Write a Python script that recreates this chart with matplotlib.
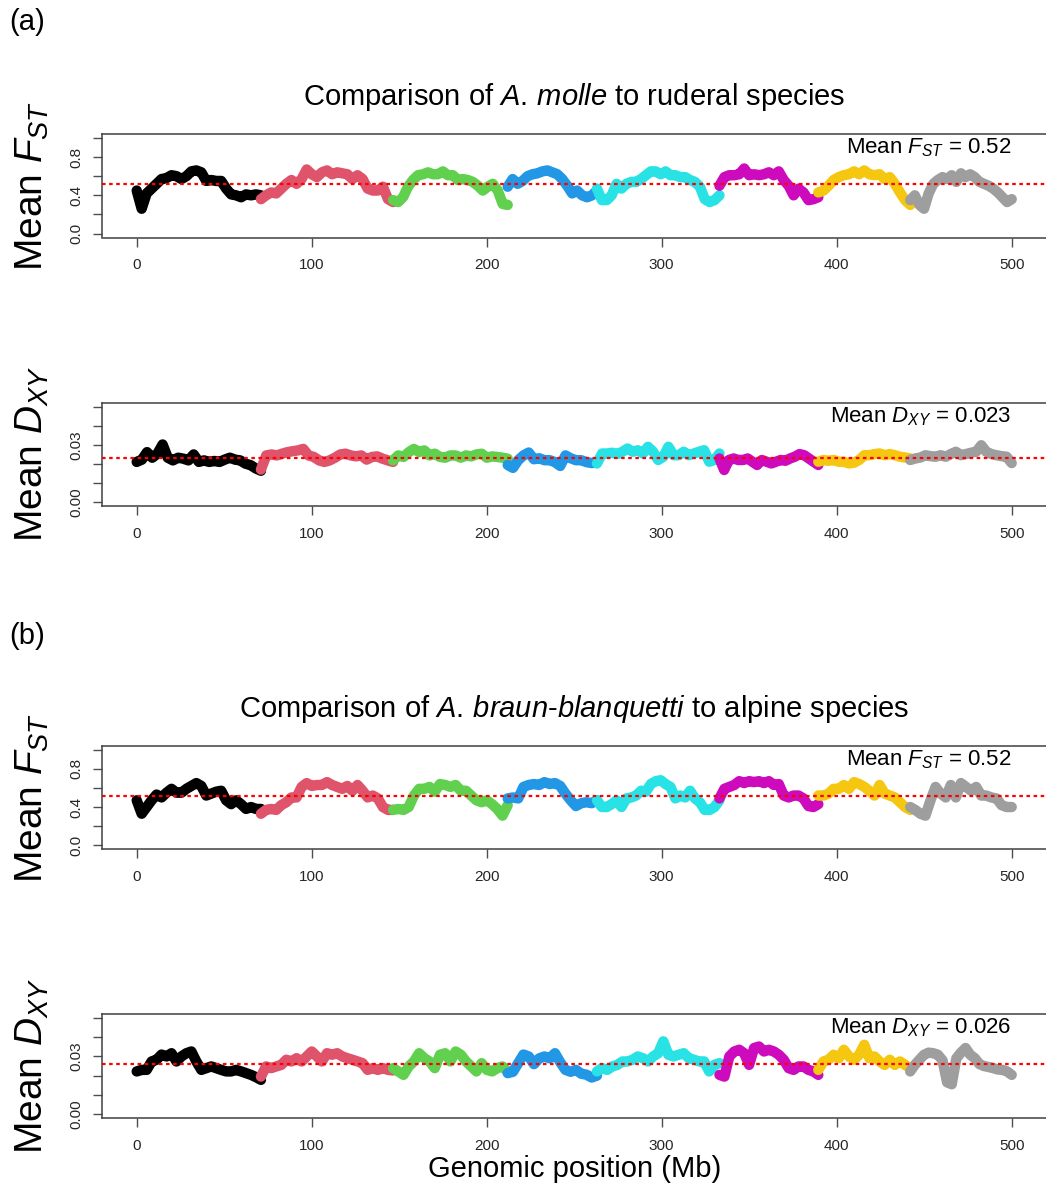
import numpy as np
import matplotlib
matplotlib.use("Agg")
import matplotlib.pyplot as plt

plt.rcParams["font.family"] = "Liberation Sans"
plt.rcParams["mathtext.fontset"] = "custom"
plt.rcParams["mathtext.rm"] = "Liberation Sans"
plt.rcParams["mathtext.it"] = "Liberation Sans:italic"
plt.rcParams["mathtext.bf"] = "Liberation Sans:bold"

# chromosome bounds (Mb) and R 4.x palette
chrom_start = [0, 71, 146.5, 212, 263, 333, 389.5, 442]
chrom_end = [71, 146.5, 212, 263, 333, 389.5, 442, 500]
chrom_col = ["#000000", "#DF536B", "#61D04F", "#2297E6",
             "#28E2E5", "#CD0BBC", "#F5C710", "#9E9E9E"]

# (a) A. molle vs ruderal: sliding-window FST per chromosome
fst_a = [
    [0.45, 0.26, 0.42, 0.47, 0.52, 0.57, 0.58, 0.61, 0.60, 0.57, 0.60, 0.65, 0.66,
     0.64, 0.55, 0.56, 0.55, 0.55, 0.47, 0.41, 0.40, 0.38, 0.41, 0.40, 0.41, 0.40],
    [0.36, 0.40, 0.43, 0.42, 0.47, 0.52, 0.56, 0.52, 0.57, 0.67, 0.62, 0.59, 0.64, 0.66,
     0.62, 0.64, 0.63, 0.62, 0.57, 0.61, 0.57, 0.47, 0.45, 0.45, 0.49, 0.36, 0.33],
    [0.35, 0.33, 0.38, 0.49, 0.56, 0.61, 0.62, 0.64, 0.62, 0.62, 0.65, 0.61,
     0.61, 0.56, 0.57, 0.56, 0.54, 0.50, 0.45, 0.49, 0.52, 0.45, 0.31, 0.30],
    [0.49, 0.57, 0.52, 0.55, 0.60, 0.62, 0.63, 0.65, 0.66, 0.64,
     0.62, 0.57, 0.50, 0.42, 0.45, 0.40, 0.38, 0.40, 0.45],
    [0.47, 0.35, 0.35, 0.40, 0.52, 0.47, 0.52, 0.54, 0.54, 0.57, 0.61, 0.65, 0.65,
     0.62, 0.65, 0.61, 0.61, 0.59, 0.59, 0.56, 0.54, 0.49, 0.36, 0.33, 0.35, 0.40],
    [0.50, 0.59, 0.61, 0.61, 0.62, 0.68, 0.61, 0.62, 0.61, 0.62, 0.64,
     0.61, 0.65, 0.56, 0.50, 0.40, 0.47, 0.43, 0.35, 0.36, 0.38],
    [0.43, 0.45, 0.50, 0.56, 0.59, 0.61, 0.62, 0.65, 0.62, 0.66,
     0.62, 0.61, 0.62, 0.57, 0.59, 0.52, 0.43, 0.35, 0.30],
    [0.35, 0.40, 0.30, 0.26, 0.42, 0.52, 0.56, 0.59, 0.57, 0.61, 0.54, 0.63,
     0.59, 0.62, 0.59, 0.54, 0.52, 0.50, 0.47, 0.43, 0.38, 0.33, 0.36],
]

dxy_a = [
    [0.0211, 0.0223, 0.0262, 0.0233, 0.0254, 0.0302, 0.0233, 0.0219, 0.0233, 0.0228,
     0.0219, 0.0250, 0.0211, 0.0219, 0.0211, 0.0216, 0.0211, 0.0223, 0.0233, 0.0223,
     0.0219, 0.0202, 0.0194, 0.0177, 0.0165],
    [0.0171, 0.0245, 0.0250, 0.0245, 0.0254, 0.0262, 0.0267, 0.0271, 0.0279, 0.0245,
     0.0237, 0.0219, 0.0211, 0.0219, 0.0233, 0.0250, 0.0254, 0.0245, 0.0240, 0.0245,
     0.0223, 0.0237, 0.0240, 0.0228, 0.0219, 0.0211],
    [0.0219, 0.0245, 0.0237, 0.0262, 0.0279, 0.0262, 0.0271, 0.0245, 0.0254, 0.0237,
     0.0233, 0.0245, 0.0245, 0.0233, 0.0245, 0.0240, 0.0250, 0.0254, 0.0233, 0.0240,
     0.0237, 0.0233, 0.0228],
    [0.0195, 0.0180, 0.0220, 0.0245, 0.0260, 0.0225, 0.0230, 0.0220, 0.0220,
     0.0210, 0.0190, 0.0245, 0.0230, 0.0220, 0.0220, 0.0210, 0.0205, 0.0210],
    [0.0203, 0.0255, 0.0255, 0.0259, 0.0252, 0.0264, 0.0281, 0.0264, 0.0272, 0.0255,
     0.0290, 0.0264, 0.0221, 0.0238, 0.0290, 0.0246, 0.0246, 0.0264, 0.0246, 0.0255,
     0.0264, 0.0272, 0.0212, 0.0221, 0.0255],
    [0.0229, 0.0169, 0.0221, 0.0229, 0.0221, 0.0221, 0.0229, 0.0212, 0.0195, 0.0221,
     0.0212, 0.0203, 0.0212, 0.0221, 0.0217, 0.0229, 0.0238, 0.0252, 0.0246, 0.0229,
     0.0212, 0.0195],
    [0.0212, 0.0221, 0.0217, 0.0221, 0.0212, 0.0212, 0.0203, 0.0207, 0.0221, 0.0246,
     0.0246, 0.0252, 0.0255, 0.0246, 0.0252, 0.0246, 0.0238, 0.0234, 0.0229],
    [0.0221, 0.0229, 0.0234, 0.0246, 0.0241, 0.0238, 0.0246, 0.0238, 0.0252, 0.0264,
     0.0246, 0.0252, 0.0259, 0.0264, 0.0298, 0.0264, 0.0252, 0.0246, 0.0241, 0.0238,
     0.0205],
]

# (b) A. braun-blanquetti vs alpine
fst_b = [
    [0.47, 0.33, 0.40, 0.47, 0.53, 0.50, 0.55, 0.59, 0.55, 0.55, 0.59, 0.62, 0.65,
     0.62, 0.52, 0.54, 0.56, 0.57, 0.47, 0.43, 0.47, 0.43, 0.38, 0.40, 0.38, 0.38],
    [0.33, 0.37, 0.38, 0.37, 0.42, 0.45, 0.50, 0.50, 0.61, 0.65, 0.62, 0.63, 0.63, 0.66,
     0.63, 0.61, 0.59, 0.62, 0.57, 0.63, 0.57, 0.50, 0.52, 0.49, 0.40, 0.37, 0.37],
    [0.37, 0.38, 0.37, 0.40, 0.52, 0.59, 0.59, 0.61, 0.56, 0.64, 0.63, 0.61,
     0.63, 0.57, 0.57, 0.52, 0.47, 0.45, 0.47, 0.43, 0.38, 0.31, 0.42],
    [0.49, 0.50, 0.49, 0.61, 0.63, 0.64, 0.63, 0.66, 0.64,
     0.65, 0.62, 0.54, 0.47, 0.41, 0.44, 0.45, 0.44, 0.47],
    [0.47, 0.40, 0.40, 0.43, 0.47, 0.40, 0.49, 0.50, 0.52, 0.57, 0.56, 0.64, 0.67,
     0.68, 0.64, 0.61, 0.49, 0.52, 0.50, 0.57, 0.49, 0.45, 0.37, 0.37, 0.40, 0.47],
    [0.49, 0.59, 0.61, 0.63, 0.67, 0.65, 0.67, 0.66, 0.67, 0.65, 0.67,
     0.63, 0.64, 0.52, 0.50, 0.52, 0.52, 0.49, 0.41, 0.40, 0.43],
    [0.52, 0.52, 0.54, 0.59, 0.59, 0.63, 0.59, 0.66, 0.64, 0.61,
     0.57, 0.52, 0.63, 0.54, 0.52, 0.50, 0.45, 0.40, 0.37],
    [0.40, 0.37, 0.33, 0.31, 0.47, 0.61, 0.54, 0.50, 0.63, 0.50, 0.65,
     0.61, 0.57, 0.61, 0.52, 0.52, 0.50, 0.49, 0.42, 0.40, 0.40],
]

dxy_b = [
    [0.0222, 0.0230, 0.0230, 0.0274, 0.0283, 0.0310, 0.0300, 0.0317, 0.0274, 0.0300,
     0.0317, 0.0326, 0.0274, 0.0230, 0.0239, 0.0248, 0.0239, 0.0230, 0.0222, 0.0222,
     0.0230, 0.0222, 0.0213, 0.0204, 0.0192, 0.0178],
    [0.0195, 0.0248, 0.0239, 0.0248, 0.0256, 0.0283, 0.0274, 0.0291, 0.0274, 0.0300,
     0.0326, 0.0300, 0.0274, 0.0317, 0.0309, 0.0317, 0.0300, 0.0291, 0.0283, 0.0274,
     0.0265, 0.0230, 0.0239, 0.0230, 0.0239, 0.0230, 0.0227],
    [0.0239, 0.0222, 0.0204, 0.0248, 0.0274, 0.0317, 0.0291, 0.0274, 0.0239, 0.0309,
     0.0317, 0.0274, 0.0326, 0.0309, 0.0274, 0.0248, 0.0222, 0.0265, 0.0230, 0.0222,
     0.0239, 0.0248, 0.0222],
    [0.0213, 0.0220, 0.0265, 0.0310, 0.0300, 0.0260, 0.0290, 0.0300, 0.0290,
     0.0317, 0.0270, 0.0230, 0.0220, 0.0230, 0.0210, 0.0205, 0.0190, 0.0200],
    [0.0222, 0.0239, 0.0230, 0.0248, 0.0256, 0.0274, 0.0274, 0.0283, 0.0300, 0.0291,
     0.0274, 0.0300, 0.0317, 0.0379, 0.0309, 0.0300, 0.0309, 0.0317, 0.0291, 0.0283,
     0.0274, 0.0274, 0.0222, 0.0256, 0.0265],
    [0.0204, 0.0195, 0.0300, 0.0326, 0.0335, 0.0317, 0.0256, 0.0344, 0.0352, 0.0326,
     0.0335, 0.0326, 0.0309, 0.0283, 0.0239, 0.0230, 0.0248, 0.0248, 0.0230, 0.0222,
     0.0204],
    [0.0230, 0.0274, 0.0283, 0.0309, 0.0291, 0.0335, 0.0300, 0.0283, 0.0309, 0.0361,
     0.0291, 0.0300, 0.0274, 0.0256, 0.0283, 0.0256, 0.0274, 0.0256, 0.0239],
    [0.0222, 0.0256, 0.0283, 0.0309, 0.0320, 0.0317, 0.0309, 0.0280, 0.0165, 0.0155,
     0.0290, 0.0320, 0.0344, 0.0309, 0.0291, 0.0260, 0.0250, 0.0245, 0.0239, 0.0232,
     0.0230, 0.0222, 0.0204],
]

means = [0.52, 0.023, 0.52, 0.026]
mean_txt = [r"Mean $F_{ST}$ = 0.52", r"Mean $D_{XY}$ = 0.023",
            r"Mean $F_{ST}$ = 0.52", r"Mean $D_{XY}$ = 0.026"]
ylabels = [r"Mean $F_{ST}$", r"Mean $D_{XY}$", r"Mean $F_{ST}$", r"Mean $D_{XY}$"]
xticks = [0, 100, 200, 300, 400, 500]

fig = plt.figure(figsize=(10.46, 11.93), dpi=100)
W, H = 1046.0, 1193.0
panel_top = [134, 402.7, 745.7, 1014.3]   # px from top
panel_h = 103.5
ax_left, ax_w = 101.7 / W, 945.0 / W

series = [fst_a, dxy_a, fst_b, dxy_b]
for i, data in enumerate(series):
    bottom = 1 - (panel_top[i] + panel_h) / H
    ax = fig.add_axes([ax_left, bottom, ax_w, panel_h / H])
    for vals, s, e, c in zip(data, chrom_start, chrom_end, chrom_col):
        x = np.linspace(s, e, len(vals))
        ax.plot(x, vals, color=c, lw=7.5, solid_capstyle="round",
                solid_joinstyle="round", zorder=2)
    ax.axhline(means[i], color="#FF0000", lw=1.6, ls=(0, (1.6, 1.6)), zorder=3)
    ax.set_xlim(-20, 520)
    ax.set_xticks(xticks)
    if i % 2 == 0:
        ax.set_ylim(-0.04, 1.04)
        ax.set_yticks([0, 0.2, 0.4, 0.6, 0.8, 1.0])
        ax.set_yticklabels(["0.0", "", "0.4", "", "0.8", ""], rotation=90, va="center")
        ty = 0.835
    else:
        ax.set_ylim(-0.002, 0.052)
        ax.set_yticks([0, 0.01, 0.02, 0.03, 0.04, 0.05])
        ax.set_yticklabels(["0.00", "", "", "0.03", "", ""], rotation=90, va="center")
        ty = 0.0418
    ax.tick_params(axis="both", direction="out", length=6.5, width=1.0,
                   color="0.3", labelsize=11, labelcolor="0.15")
    ax.tick_params(axis="x", pad=8.5)
    ax.tick_params(axis="y", pad=6.5)
    for sp in ax.spines.values():
        sp.set_linewidth(1.1)
        sp.set_color("0.25")
    ax.text(500, ty, mean_txt[i], ha="right", va="baseline", fontsize=16)
    yc = 1 - (panel_top[i] + panel_h / 2) / H
    fig.text(43 / W, yc, ylabels[i], rotation=90, rotation_mode="anchor",
             ha="center", va="baseline", fontsize=28)

xc = (101.7 + 1046.7) / 2 / W
fig.text(xc, 1 - 105 / H, r"Comparison of $\mathit{A.\,molle}$ to ruderal species",
         ha="center", va="baseline", fontsize=21)
fig.text(xc, 1 - 717 / H,
         r"Comparison of $\mathit{A.\,braun}$-$\mathit{blanquetti}$ to alpine species",
         ha="center", va="baseline", fontsize=21)
fig.text(9 / W, 1 - 30 / H, "(a)", ha="left", va="baseline", fontsize=21)
fig.text(9 / W, 1 - 644 / H, "(b)", ha="left", va="baseline", fontsize=21)
fig.text(xc, 1 - 1177 / H, "Genomic position (Mb)", ha="center", va="baseline",
         fontsize=21)

fig.savefig("out.png", dpi=100)
